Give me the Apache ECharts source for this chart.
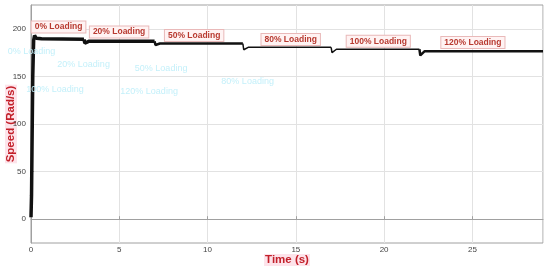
<!DOCTYPE html>
<html>
<head>
<meta charset="utf-8">
<script src="https://cdn.jsdelivr.net/npm/echarts@6/dist/echarts.min.js"></script>
<style>
  html, body { margin: 0; padding: 0; background: #fff; }
  #chart { width: 550px; height: 271px; }
</style>
</head>
<body>
<div id="chart"></div>
<script>
  // speed response (rad/s) over time (s)
  const time = [0, 0.03, 0.06, 0.1, 0.15, 0.2, 0.3, 0.6, 3.0, 3.05, 3.3, 7.0, 7.05, 7.3, 12.0, 12.05, 12.3, 17.0, 17.05, 17.3, 22.0, 22.05, 22.3, 29]
  const speed = [2, 25, 80, 150, 188, 193, 190, 189.5, 189, 185, 187, 187, 183, 184.5, 184.5, 178, 180.5, 180.5, 175, 178.5, 178.5, 172, 176.5, 176.5]

  // load steps
  const stageStart = [0, 3, 7, 12, 17, 22]
  const stageEnd = [3, 7, 12, 17, 22, 29]
  const stageWidth = [3.5, 3.5, 2.5, 1.5, 1.5, 2.5]

  // annotations [t, value]
  const labelText = ['0% Loading', '20% Loading', '50% Loading', '80% Loading', '100% Loading', '120% Loading']
  const labelX = [1.56, 4.99, 9.24, 14.71, 19.67, 25.03]
  const labelY = [202, 196.6, 193, 188.7, 187, 185.5]

  // faint ghost copies of the labels
  const ghostText = ['0% Loading', '20% Loading', '50% Loading', '80% Loading', '100% Loading', '120% Loading']
  const ghostX = [0.03, 2.98, 7.37, 12.27, 1.36, 6.69]
  const ghostY = [175.9, 162.8, 158.6, 145, 136.4, 134.6]

  const yTicks = [0, 50, 100, 150, 200]

  const chart = echarts.init(document.getElementById('chart'))

  const series = stageStart.map((s, i) => {
    const pts = []
    time.forEach((t, k) => {
      if (t >= s && t <= stageEnd[i]) pts.push([t, speed[k]])
    })
    return {
      type: 'line',
      data: pts,
      symbol: 'none',
      silent: true,
      lineStyle: { color: '#111', width: stageWidth[i] },
      animation: false
    }
  })

  series.push({
    type: 'scatter',
    data: [],
    silent: true,
    animation: false,
    markPoint: {
      symbol: 'rect',
      symbolSize: 0,
      animation: false,
      label: {
        show: true,
        position: 'inside',
        color: '#b83a30',
        fontWeight: 'bold',
        fontSize: 8.5,
        fontFamily: 'Liberation Sans, Arial, sans-serif',
        backgroundColor: '#fff3f3',
        borderColor: '#e9b9b9',
        borderWidth: 1,
        padding: [1, 3, 1, 3],
        formatter: p => p.name
      },
      data: labelText.map((n, i) => ({ name: n, coord: [labelX[i], labelY[i]] }))
    }
  })

  series.push({
    type: 'scatter',
    data: [],
    silent: true,
    animation: false,
    markPoint: {
      symbol: 'rect',
      symbolSize: 0,
      animation: false,
      label: {
        show: true,
        position: 'inside',
        color: '#c4f0fa',
        fontSize: 9,
        fontFamily: 'Liberation Sans, Arial, sans-serif',
        formatter: p => p.name
      },
      data: ghostText.map((n, i) => ({ name: n, coord: [ghostX[i], ghostY[i]] }))
    }
  })

  chart.setOption({
    backgroundColor: '#fff',
    grid: {
      left: 31,
      right: 7,
      top: 5,
      bottom: 28,
      outerBoundsMode: 'none',
      containLabel: false,
      show: true,
      borderColor: '#a0a0a0',
      borderWidth: 1
    },
    xAxis: {
      type: 'value',
      min: 0,
      max: 29,
      interval: 5,
      name: 'Time (s)',
      nameLocation: 'middle',
      nameGap: 11,
      nameMoveOverlap: false,
      nameTextStyle: {
        color: '#c3202a',
        fontWeight: 'bold',
        fontSize: 11.5,
        fontFamily: 'Liberation Sans, Arial, sans-serif',
        backgroundColor: '#fde3ea',
        padding: [0, 1, 0, 1]
      },
      axisLine: { lineStyle: { color: '#a0a0a0' } },
      axisTick: { inside: true, length: 3, lineStyle: { color: '#a0a0a0' } },
      axisLabel: { color: '#444', fontSize: 8, margin: 3, showMaxLabel: false },
      splitLine: { lineStyle: { color: '#e2e2e2' } }
    },
    yAxis: {
      type: 'value',
      min: -25,
      max: 225,
      name: 'Speed (Rad/s)',
      nameLocation: 'middle',
      nameGap: 14,
      nameMoveOverlap: false,
      nameTextStyle: {
        color: '#c3202a',
        fontWeight: 'bold',
        fontSize: 11.5,
        fontFamily: 'Liberation Sans, Arial, sans-serif',
        backgroundColor: '#fde3ea',
        padding: [0, 1, 0, 1]
      },
      axisLine: { show: true, lineStyle: { color: '#a0a0a0' } },
      axisTick: { show: true, inside: true, length: 3, customValues: yTicks, lineStyle: { color: '#a0a0a0' } },
      axisLabel: { color: '#444', fontSize: 8, margin: 5, customValues: yTicks },
      splitLine: { lineStyle: { color: '#e2e2e2' } }
    },
    series: series
  })
</script>
</body>
</html>
